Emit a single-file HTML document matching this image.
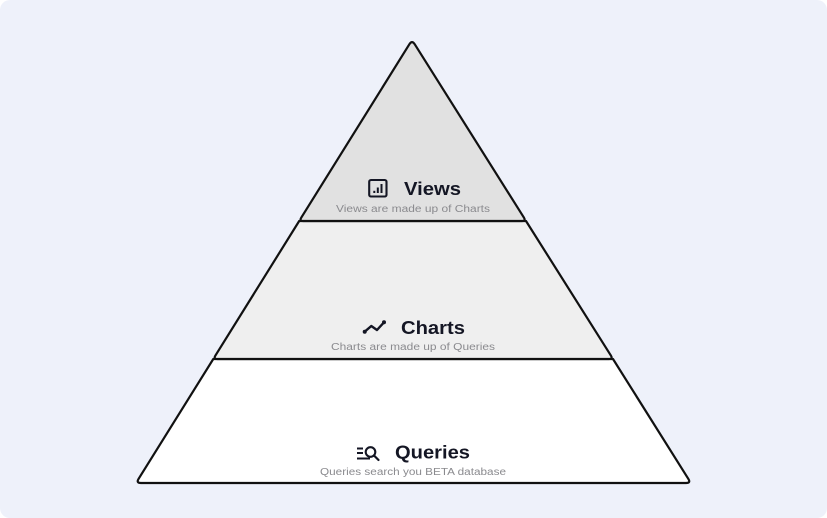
<!DOCTYPE html>
<html>
<head>
<meta charset="utf-8">
<style>
  html,body{margin:0;padding:0;background:#ffffff;}
  body{width:827px;height:518px;overflow:hidden;}
  .card{position:absolute;left:0;top:0;width:827px;height:518px;background:#eef1fa;border-radius:10px;}
  svg{position:absolute;left:0;top:0;}
  .t{font-family:"Liberation Sans",sans-serif;font-weight:bold;font-size:18.5px;fill:#141624;}
  .s{font-family:"Liberation Sans",sans-serif;font-size:10px;fill:#8a8a8e;}
</style>
</head>
<body>
<div class="card"></div>
<svg width="827" height="518" viewBox="0 0 827 518" xmlns="http://www.w3.org/2000/svg">
  <!-- Queries (bottom) -->
  <path d="M213.3,359 L613,359 L688.3,478.8 Q691,483 686,483 L141,483 Q136,483 138.6,478.8 Z"
        fill="#ffffff" stroke="#111111" stroke-width="2.2" stroke-linejoin="round"/>
  <!-- Charts (middle) -->
  <path d="M299.2,221 L526,221 L610.9,355.6 Q613,359 609,359 L217.3,359 Q213.3,359 215.4,355.6 Z"
        fill="#efefef" stroke="#111111" stroke-width="2.2" stroke-linejoin="round"/>
  <!-- Views (top) -->
  <path d="M409.4,44.2 Q412,40 414.7,44.2 L523.9,217.6 Q526,221 522,221 L303.2,221 Q299.2,221 301.3,217.6 Z"
        fill="#e1e1e1" stroke="#111111" stroke-width="2.2" stroke-linejoin="round"/>

  <!-- Views icon -->
  <rect x="369.2" y="180" width="17.3" height="16.5" rx="1.8" fill="none" stroke="#141624" stroke-width="2.1"/>
  <rect x="373.3" y="190.8" width="2" height="2.2" fill="#141624"/>
  <rect x="376.8" y="187.5" width="2" height="5.5" fill="#141624"/>
  <rect x="380.5" y="184" width="2" height="9" fill="#141624"/>
  <text class="t" x="404" y="195" textLength="57" lengthAdjust="spacingAndGlyphs">Views</text>
  <text class="s" x="336" y="212" textLength="154" lengthAdjust="spacingAndGlyphs">Views are made up of Charts</text>

  <!-- Charts icon -->
  <polyline points="364.7,331.7 371.3,326 377,330 384,322.3" fill="none" stroke="#141624" stroke-width="2.4" stroke-linejoin="round" stroke-linecap="round"/>
  <circle cx="364.7" cy="331.7" r="2" fill="#141624"/>
  <circle cx="384" cy="322.3" r="2" fill="#141624"/>
  <text class="t" x="401" y="334" textLength="64" lengthAdjust="spacingAndGlyphs">Charts</text>
  <text class="s" x="331" y="350" textLength="164" lengthAdjust="spacingAndGlyphs">Charts are made up of Queries</text>

  <!-- Queries icon -->
  <line x1="357" y1="448.5" x2="363" y2="448.5" stroke="#141624" stroke-width="2"/>
  <line x1="357" y1="453" x2="363" y2="453" stroke="#141624" stroke-width="2"/>
  <line x1="357" y1="458.5" x2="370" y2="458.5" stroke="#141624" stroke-width="2"/>
  <circle cx="370.5" cy="452" r="4.8" fill="none" stroke="#141624" stroke-width="2.1"/>
  <line x1="374" y1="455.5" x2="378.5" y2="460" stroke="#141624" stroke-width="2.2" stroke-linecap="round"/>
  <text class="t" x="395" y="458.5" textLength="75" lengthAdjust="spacingAndGlyphs">Queries</text>
  <text class="s" x="320" y="475" textLength="186" lengthAdjust="spacingAndGlyphs">Queries search you BETA database</text>
</svg>
</body>
</html>
